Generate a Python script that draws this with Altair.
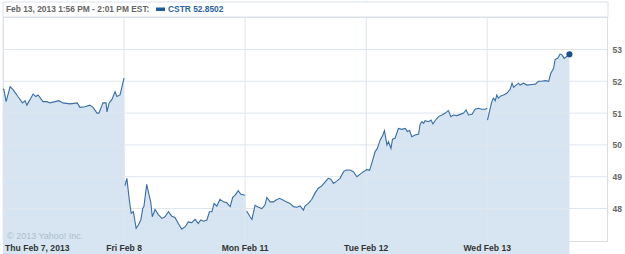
import altair as alt
import pandas as pd

# ---- data (minutes after the 9:30 open, price) ----
day_labels = ["Thu Feb 7, 2013", "Fri Feb 8", "Mon Feb 11", "Tue Feb 12", "Wed Feb 13"]
session_minutes = 390

thu_min = [0, 3, 10, 23, 33, 48, 63, 71, 77, 97, 106, 113, 129, 142, 151, 168, 180, 193, 216, 239, 248,
           264, 280, 290, 303, 309, 322, 332, 335, 342, 351, 361, 367, 377, 390]
thu_px = [51.76, 51.73, 51.36, 51.83, 51.73, 51.52, 51.32, 51.39, 51.25, 51.6, 51.52, 51.57, 51.36, 51.36,
          51.32, 51.36, 51.39, 51.32, 51.29, 51.32, 51.18, 51.2, 51.25, 51.18, 51.0, 51.0, 51.32, 51.32,
          51.04, 51.32, 51.43, 51.67, 51.52, 51.57, 52.1]

fri_min = [3, 9, 17, 23, 30, 39, 46, 54, 60, 64, 73, 82, 86, 91, 100, 111, 122, 132, 143, 154, 164, 175,
           186, 197, 207, 218, 229, 239, 247, 256, 267, 275, 283, 290, 299, 309, 320, 331, 342, 350, 358,
           368, 376, 390]
fri_px = [48.72, 48.95, 48.27, 47.85, 47.9, 47.38, 47.48, 47.64, 48.0, 48.06, 48.76, 48.37, 48.21, 47.74,
          47.97, 47.8, 47.69, 47.74, 47.9, 47.76, 47.72, 47.53, 47.35, 47.43, 47.58, 47.56, 47.66, 47.53,
          47.64, 47.6, 47.64, 47.9, 47.9, 48.16, 48.08, 48.29, 48.21, 48.18, 48.06, 48.35, 48.42, 48.56,
          48.45, 48.42]

mon_min = [5, 16, 22, 32, 43, 54, 64, 70, 81, 91, 100, 111, 122, 132, 145, 156, 167, 177, 188, 193, 204,
           215, 226, 236, 247, 258, 268, 276, 285, 296, 306, 317, 326, 338, 349, 360, 371, 381, 390]
mon_px = [47.92, 47.74, 47.66, 48.1, 48.04, 48.0, 48.11, 48.35, 48.21, 48.21, 48.27, 48.32, 48.27, 48.21,
          48.16, 48.06, 48.04, 48.08, 47.95, 48.08, 48.16, 48.29, 48.5, 48.64, 48.71, 48.84, 48.95, 48.92,
          48.79, 48.87, 48.95, 49.16, 49.21, 49.21, 49.16, 49.0, 49.08, 49.16, 49.2]

tue_min = [0, 2, 11, 18, 29, 36, 45, 54, 59, 67, 72, 80, 85, 93, 104, 115, 126, 133, 140, 147, 158, 169,
           174, 180, 185, 190, 201, 209, 215, 222, 233, 244, 255, 265, 273, 281, 292, 303, 314, 322, 330,
           341, 351, 362, 373, 384, 390]
tue_px = [49.2, 49.23, 49.2, 49.42, 49.79, 49.89, 50.15, 50.31, 50.45, 50.0, 50.1, 49.89, 50.18, 50.21,
          50.52, 50.49, 50.52, 50.42, 50.45, 50.26, 50.31, 50.34, 50.66, 50.73, 50.68, 50.76, 50.73, 50.78,
          50.66, 50.76, 50.89, 50.94, 51.0, 51.08, 50.89, 50.94, 50.92, 50.96, 51.0, 51.1, 50.94, 50.96,
          51.12, 51.15, 51.12, 51.12, 51.15]

wed_min = [1, 7, 15, 20, 26, 31, 36, 44, 53, 63, 74, 80, 85, 93, 101, 106, 117, 128, 144, 155, 165, 176,
           187, 198, 205, 214, 219, 227, 235, 241, 248, 255, 259, 265]
wed_px = [50.78, 51.04, 51.36, 51.47, 51.39, 51.57, 51.47, 51.54, 51.57, 51.62, 51.75, 51.94, 51.81, 51.88,
          51.94, 51.88, 51.94, 51.88, 51.9, 51.91, 52.0, 52.0, 52.02, 52.0, 52.25, 52.41, 52.69, 52.72,
          52.86, 52.83, 52.72, 52.77, 52.8, 52.8502]

y_ticks = [48, 49, 50, 51, 52, 53]
y_domain = [46.98, 54.02]
x_domain = [0, 1946]

header_text = "Feb 13, 2013 1:56 PM - 2:01 PM EST:"
legend_text = "CSTR 52.8502"
copyright_text = "\u00a9 2013 Yahoo! Inc."

# ---- build tables ----
rows = []
for d, (mins, prices) in enumerate([(thu_min, thu_px), (fri_min, fri_px), (mon_min, mon_px),
                                    (tue_min, tue_px), (wed_min, wed_px)]):
    for m, p in zip(mins, prices):
        rows.append({"t": d * session_minutes + m, "price": p, "day": d})
df = pd.DataFrame(rows)
last = df.tail(1)
day_starts = pd.DataFrame({"t": [i * session_minutes for i in range(len(day_labels))],
                           "label": day_labels, "idx": list(range(len(day_labels)))})
ygrid = pd.DataFrame({"v": y_ticks})

W, H = 604, 224
FONT = "Liberation Sans"

xs = alt.Scale(domain=x_domain, nice=False, zero=False)
ys = alt.Scale(domain=y_domain, nice=False, zero=False)

area = alt.Chart(df).mark_area(color="#d6e5f1", opacity=1).encode(
    x=alt.X("t:Q", scale=xs, axis=None),
    y=alt.Y("price:Q", scale=ys, axis=alt.Axis(orient="right", values=y_ticks, grid=False, ticks=False,
                                               domain=False, title=None, labelFont=FONT,
                                               labelFontSize=8.5, labelColor="#666666",
                                               labelPadding=5, labelFontWeight="bold")),
    y2=alt.value(H),
)

hgrid = alt.Chart(ygrid).mark_rule(color="#dfe6ee", strokeWidth=1).encode(
    y=alt.Y("v:Q", scale=ys), x=alt.value(0), x2=alt.value(W))
vgrid = alt.Chart(day_starts).mark_rule(color="#dfe6ee", strokeWidth=1).encode(
    x=alt.X("t:Q", scale=xs), y=alt.value(0), y2=alt.value(H))

line = alt.Chart(df).mark_line(color="#3a6da4", strokeWidth=1.1).encode(
    x=alt.X("t:Q", scale=xs), y=alt.Y("price:Q", scale=ys), detail="day:N")

point = alt.Chart(last).mark_circle(color="#1d4f8c", opacity=1, size=38).encode(
    x=alt.X("t:Q", scale=xs), y=alt.Y("price:Q", scale=ys))

xlab_first = alt.Chart(day_starts).transform_filter("datum.idx == 0").mark_text(
    align="left", baseline="middle", font=FONT, fontSize=8.6, fontWeight="bold", color="#333333",
    dx=2).encode(x=alt.X("t:Q", scale=xs), y=alt.value(H + 6.5), text="label:N")
xlab_rest = alt.Chart(day_starts).transform_filter("datum.idx > 0").mark_text(
    align="center", baseline="middle", font=FONT, fontSize=8.6, fontWeight="bold", color="#333333",
    ).encode(x=alt.X("t:Q", scale=xs), y=alt.value(H + 6.5), text="label:N")

one = pd.DataFrame({"a": [0]})
header_box = alt.Chart(one).mark_rect(fill="white", stroke="#dbe2ea", strokeWidth=1).encode(
    x=alt.value(0), x2=alt.value(W + 1), y=alt.value(-15), y2=alt.value(0))
header = alt.Chart(one).mark_text(align="left", baseline="middle", font=FONT, fontSize=8.4,
                                  fontWeight="bold", color="#666666").encode(
    x=alt.value(3), y=alt.value(-8), text=alt.value(header_text))
swatch = alt.Chart(one).mark_rect(color="#1f5d99").encode(
    x=alt.value(153), x2=alt.value(162), y=alt.value(-9.5), y2=alt.value(-6))
legend = alt.Chart(one).mark_text(align="left", baseline="middle", font=FONT, fontSize=8.4,
                                  fontWeight="bold", color="#2a64a0").encode(
    x=alt.value(165), y=alt.value(-8), text=alt.value(legend_text))
copyright_mark = alt.Chart(one).mark_text(align="left", baseline="middle", font=FONT, fontSize=9,
                                          color="#aebdcb").encode(
    x=alt.value(4), y=alt.value(219), text=alt.value(copyright_text))

chart = alt.layer(area, hgrid, vgrid, line, point, xlab_first, xlab_rest, header_box, header, swatch,
                  legend, copyright_mark).properties(
    width=W, height=H,
    autosize=alt.AutoSizeParams(type="none"),
    padding={"left": 3, "top": 17, "right": 18, "bottom": 13},
).configure_view(stroke="#cfd8e1", strokeWidth=1).configure(background="white")

chart.save("out.html", embed_options={"renderer": "svg", "actions": False})
